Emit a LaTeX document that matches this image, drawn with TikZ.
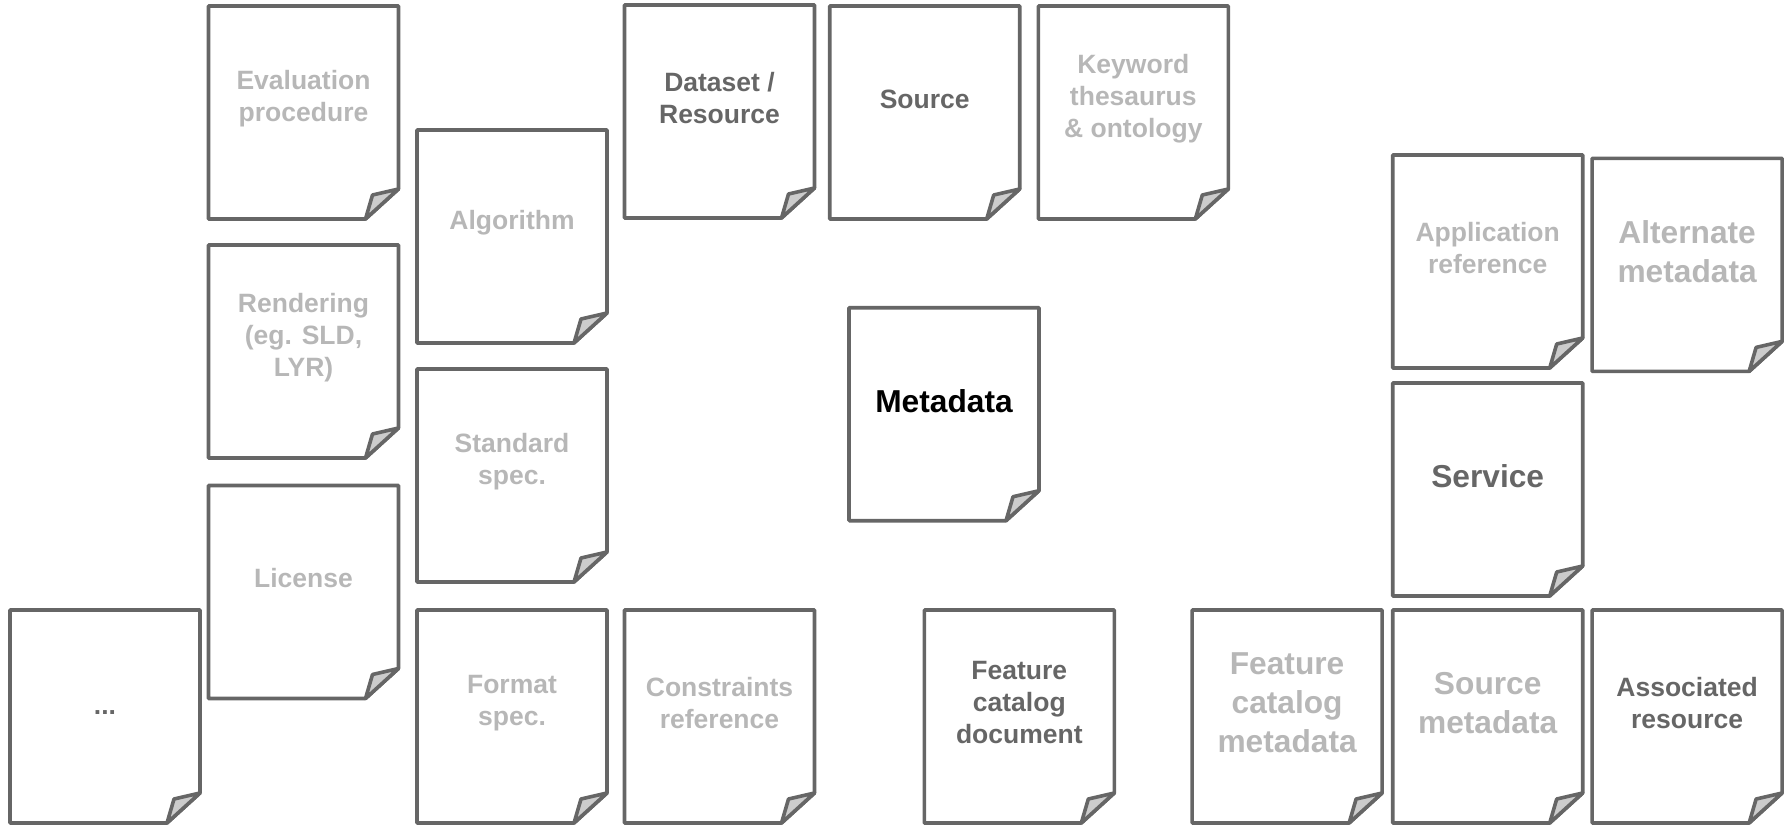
\documentclass[tikz,border=0pt]{standalone}
\usepackage{fontspec}
\setmainfont{Liberation Sans}
\usetikzlibrary{positioning}

\definecolor{pageline}{HTML}{666666}
\definecolor{pagefold}{HTML}{CCCCCC}
\definecolor{faint}{HTML}{B7B7B7}
\definecolor{plain}{HTML}{666666}

% page size and fold, in px
\newcommand{\pw}{190}
\newcommand{\ph}{213}
% one document page: name, top-left corner, label style, label
\newcommand{\docpage}[4]{%
  \coordinate (#1-tl) at #2;
  \draw[pageedge] (#1-tl) -- ++(\pw,0) -- ++(0,\ph-30) -- ++(-33,30) -- ++(-\pw+33,0) -- cycle;
  \draw[pageedge,fill=pagefold] ([shift={(\pw-33,\ph)}]#1-tl) -- ([shift={(\pw-26,\ph-24)}]#1-tl)
    -- ([shift={(\pw,\ph-30)}]#1-tl) -- cycle;
  \node[#3] (#1) at ([shift={(\pw/2,93)}]#1-tl) {#4};
}

\tikzset{
  pageedge/.style={draw=pageline,line width=3.6pt,line join=round},
  small/.style={font=\bfseries\fontsize{26.5}{32}\selectfont,align=center,inner sep=0pt},
  big/.style={font=\bfseries\fontsize{31.7}{39}\selectfont,align=center,inner sep=0pt},
}

\begin{document}
\begin{tikzpicture}[x=1pt,y=-1pt]
\useasboundingbox (0,0) rectangle (1787,825);
% ================= left block =================
\docpage{dots}{(10,610)}{small,text=plain,yshift=-10pt}{...}
\docpage{evaluation}{(208.5,6)}{small,text=faint}{Evaluation\\procedure}
\docpage{rendering}{(208.5,245)}{small,text=faint}{Rendering\\(eg. SLD,\\LYR)}
\docpage{license}{(208.5,485.5)}{small,text=faint}{License}
\docpage{algorithm}{(417,130)}{small,text=faint}{Algorithm}
\docpage{standard}{(417,369)}{small,text=faint}{Standard\\spec.}
\docpage{format}{(417,610)}{small,text=faint}{Format\\spec.}
\docpage{constraints}{(624.5,610)}{small,text=faint}{Constraints\\reference}
% ================= top row and centre =================
\docpage{dataset}{(624.5,5)}{small,text=plain}{Dataset /\\Resource}
\docpage{source}{(829.7,6)}{small,text=plain}{Source}
\docpage{keyword}{(1038.3,6)}{small,text=faint}{Keyword\\thesaurus\\\& ontology}
\docpage{metadata}{(849,307.7)}{big,text=black}{Metadata}
\docpage{fcdoc}{(924.3,610)}{small,text=plain}{Feature\\catalog\\document}
% ================= right block =================
\docpage{fcmeta}{(1192.1,610)}{big,text=faint}{Feature\\catalog\\metadata}
\docpage{srcmeta}{(1392.7,610)}{big,text=faint}{Source\\metadata}
\docpage{associated}{(1592.1,610)}{small,text=plain}{Associated\\resource}
\docpage{service}{(1392.7,383)}{big,text=plain}{Service}
\docpage{appref}{(1392.7,155)}{small,text=faint}{Application\\reference}
\docpage{altmeta}{(1592.1,158.4)}{big,text=faint}{Alternate\\metadata}
\end{tikzpicture}
\end{document}
